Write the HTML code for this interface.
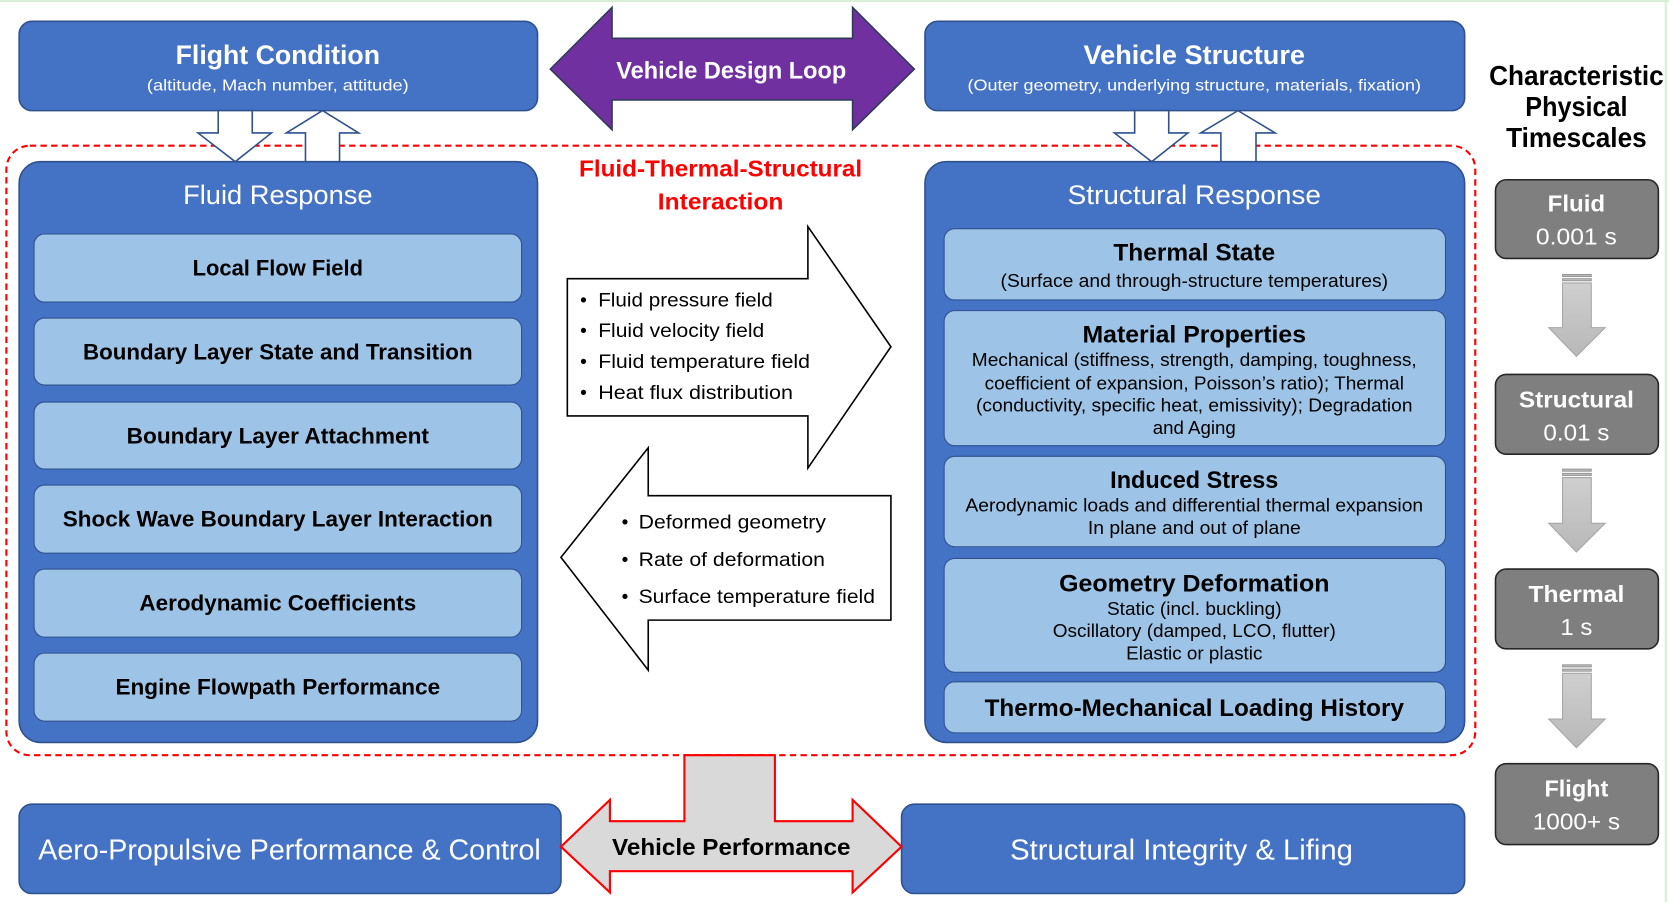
<!DOCTYPE html>
<html><head><meta charset="utf-8"><style>
html,body{margin:0;padding:0;background:#fff;width:1669px;height:902px;overflow:hidden}
svg{display:block}
text{font-family:"Liberation Sans",sans-serif}
</style></head><body>
<svg width="1669" height="902" viewBox="0 0 1568 848" preserveAspectRatio="none" xmlns="http://www.w3.org/2000/svg">
<defs>
<linearGradient id="ga" x1="0" x2="0" y1="0" y2="1"><stop offset="0" stop-color="#cfcfcf"/><stop offset="1" stop-color="#b8b8b8"/></linearGradient>
</defs>
<rect x="0" y="0" width="1568" height="848" fill="#fff"/>
<line x1="1565" y1="0" x2="1565" y2="848" stroke="#d8f0d8" stroke-width="2"/>
<line x1="0" y1="1" x2="1568" y2="1" stroke="#d8f0d8" stroke-width="2"/>

<!-- red dashed region -->
<rect x="6" y="137" width="1380" height="573" rx="22" fill="none" stroke="#ff0000" stroke-width="2" stroke-dasharray="6,4"/>

<!-- top boxes -->
<rect x="18" y="20" width="487" height="84" rx="12" fill="#4472C4" stroke="#2F528F" stroke-width="1.5"/>
<text x="261" y="60" text-anchor="middle" fill="#fff" font-size="25" font-weight="bold" textLength="192" lengthAdjust="spacingAndGlyphs">Flight Condition</text>
<text x="261" y="85" text-anchor="middle" fill="#fff" font-size="15" textLength="246" lengthAdjust="spacingAndGlyphs">(altitude, Mach number, attitude)</text>

<rect x="869" y="20" width="507" height="84" rx="12" fill="#4472C4" stroke="#2F528F" stroke-width="1.5"/>
<text x="1122" y="60" text-anchor="middle" fill="#fff" font-size="25" font-weight="bold" textLength="208" lengthAdjust="spacingAndGlyphs">Vehicle Structure</text>
<text x="1122" y="85" text-anchor="middle" fill="#fff" font-size="15" textLength="426" lengthAdjust="spacingAndGlyphs">(Outer geometry, underlying structure, materials, fixation)</text>

<!-- purple arrow -->
<polygon points="517,65 575,7 575,36 801,36 801,7 859,65 801,122 801,94 575,94 575,122" fill="#7030A0" stroke="#2F3B55" stroke-width="1.5"/>
<text x="687" y="74" text-anchor="middle" fill="#fff" font-size="23" font-weight="bold" textLength="216" lengthAdjust="spacingAndGlyphs">Vehicle Design Loop</text>

<!-- characteristic title -->
<g font-size="26" font-weight="bold" fill="#000" text-anchor="middle">
<text x="1481" y="80" textLength="164" lengthAdjust="spacingAndGlyphs">Characteristic</text>
<text x="1481" y="109" textLength="96" lengthAdjust="spacingAndGlyphs">Physical</text>
<text x="1481" y="138" textLength="132" lengthAdjust="spacingAndGlyphs">Timescales</text>
</g>

<!-- panels -->
<rect x="18" y="152" width="487" height="546" rx="20" fill="#4472C4" stroke="#2F528F" stroke-width="1.5"/>
<text x="261" y="192" text-anchor="middle" fill="#fff" font-size="25" textLength="178" lengthAdjust="spacingAndGlyphs">Fluid Response</text>
<rect x="869" y="152" width="507" height="546" rx="20" fill="#4472C4" stroke="#2F528F" stroke-width="1.5"/>
<text x="1122" y="192" text-anchor="middle" fill="#fff" font-size="25" textLength="238" lengthAdjust="spacingAndGlyphs">Structural Response</text>

<!-- hollow arrows -->
<g fill="#fff" stroke="#2F528F" stroke-width="1.5">
<polygon points="205,104 237,104 237,125 255,125 221,152 186,125 205,125"/>
<polygon points="287,152 319,152 319,125 337,125 303,104 269,125 287,125"/>
<polygon points="1066,104 1098,104 1098,125 1116,125 1082,152 1047,125 1066,125"/>
<polygon points="1147,152 1180,152 1180,125 1198,125 1163,104 1128,125 1147,125"/>
</g>

<!-- fluid items -->
<g fill="#9DC3E6" stroke="#2F528F" stroke-width="1">
<rect x="32" y="220" width="458" height="64" rx="10"/>
<rect x="32" y="299" width="458" height="63" rx="10"/>
<rect x="32" y="378" width="458" height="63" rx="10"/>
<rect x="32" y="456" width="458" height="64" rx="10"/>
<rect x="32" y="535" width="458" height="64" rx="10"/>
<rect x="32" y="614" width="458" height="64" rx="10"/>
</g>
<g font-size="21" font-weight="bold" fill="#000" text-anchor="middle">
<text x="261" y="259" textLength="160" lengthAdjust="spacingAndGlyphs">Local Flow Field</text>
<text x="261" y="338" textLength="366" lengthAdjust="spacingAndGlyphs">Boundary Layer State and Transition</text>
<text x="261" y="417" textLength="284" lengthAdjust="spacingAndGlyphs">Boundary Layer Attachment</text>
<text x="261" y="495" textLength="404" lengthAdjust="spacingAndGlyphs">Shock Wave Boundary Layer Interaction</text>
<text x="261" y="574" textLength="260" lengthAdjust="spacingAndGlyphs">Aerodynamic Coefficients</text>
<text x="261" y="653" textLength="305" lengthAdjust="spacingAndGlyphs">Engine Flowpath Performance</text>
</g>

<!-- structural items -->
<g fill="#9DC3E6" stroke="#2F528F" stroke-width="1">
<rect x="887" y="215" width="471" height="67" rx="10"/>
<rect x="887" y="292" width="471" height="127" rx="10"/>
<rect x="887" y="429" width="471" height="85" rx="10"/>
<rect x="887" y="525" width="471" height="107" rx="10"/>
<rect x="887" y="641" width="471" height="48" rx="10"/>
</g>
<g fill="#000" text-anchor="middle">
<text x="1122" y="245" font-size="23" font-weight="bold" textLength="152" lengthAdjust="spacingAndGlyphs">Thermal State</text>
<text x="1122" y="270" font-size="17" textLength="364" lengthAdjust="spacingAndGlyphs">(Surface and through-structure temperatures)</text>
<text x="1122" y="322" font-size="23" font-weight="bold" textLength="210" lengthAdjust="spacingAndGlyphs">Material Properties</text>
<text x="1122" y="344" font-size="17" textLength="418" lengthAdjust="spacingAndGlyphs">Mechanical (stiffness, strength, damping, toughness,</text>
<text x="1122" y="366" font-size="17" textLength="394" lengthAdjust="spacingAndGlyphs">coefficient of expansion, Poisson’s ratio); Thermal</text>
<text x="1122" y="387" font-size="17" textLength="410" lengthAdjust="spacingAndGlyphs">(conductivity, specific heat, emissivity); Degradation</text>
<text x="1122" y="408" font-size="17" textLength="78" lengthAdjust="spacingAndGlyphs">and Aging</text>
<text x="1122" y="459" font-size="23" font-weight="bold" textLength="158" lengthAdjust="spacingAndGlyphs">Induced Stress</text>
<text x="1122" y="481" font-size="17" textLength="430" lengthAdjust="spacingAndGlyphs">Aerodynamic loads and differential thermal expansion</text>
<text x="1122" y="502" font-size="17" textLength="200" lengthAdjust="spacingAndGlyphs">In plane and out of plane</text>
<text x="1122" y="556" font-size="23" font-weight="bold" textLength="254" lengthAdjust="spacingAndGlyphs">Geometry Deformation</text>
<text x="1122" y="578" font-size="17" textLength="164" lengthAdjust="spacingAndGlyphs">Static (incl. buckling)</text>
<text x="1122" y="599" font-size="17" textLength="266" lengthAdjust="spacingAndGlyphs">Oscillatory (damped, LCO, flutter)</text>
<text x="1122" y="620" font-size="17" textLength="128" lengthAdjust="spacingAndGlyphs">Elastic or plastic</text>
<text x="1122" y="673" font-size="23" font-weight="bold" textLength="394" lengthAdjust="spacingAndGlyphs">Thermo-Mechanical Loading History</text>
</g>

<!-- FTSI label -->
<g fill="#ff0000" font-size="22" font-weight="bold" text-anchor="middle">
<text x="677" y="166" textLength="266" lengthAdjust="spacingAndGlyphs">Fluid-Thermal-Structural</text>
<text x="677" y="197" textLength="118" lengthAdjust="spacingAndGlyphs">Interaction</text>
</g>

<!-- center arrows -->
<polygon points="533,262 759,262 759,213 837,326 759,440 759,391 533,391" fill="#fff" stroke="#000" stroke-width="1.5"/>
<g font-size="18" fill="#000">
<text x="545" y="288">•</text><text x="562" y="288" textLength="164" lengthAdjust="spacingAndGlyphs">Fluid pressure field</text>
<text x="545" y="317">•</text><text x="562" y="317" textLength="156" lengthAdjust="spacingAndGlyphs">Fluid velocity field</text>
<text x="545" y="346">•</text><text x="562" y="346" textLength="199" lengthAdjust="spacingAndGlyphs">Fluid temperature field</text>
<text x="545" y="375">•</text><text x="562" y="375" textLength="183" lengthAdjust="spacingAndGlyphs">Heat flux distribution</text>
</g>
<polygon points="837,466 609,466 609,421 527,524 609,630 609,583 837,583" fill="#fff" stroke="#000" stroke-width="1.5"/>
<g font-size="18" fill="#000">
<text x="584" y="497">•</text><text x="600" y="497" textLength="176" lengthAdjust="spacingAndGlyphs">Deformed geometry</text>
<text x="584" y="532">•</text><text x="600" y="532" textLength="175" lengthAdjust="spacingAndGlyphs">Rate of deformation</text>
<text x="584" y="567">•</text><text x="600" y="567" textLength="222" lengthAdjust="spacingAndGlyphs">Surface temperature field</text>
</g>

<!-- bottom -->
<rect x="18" y="756" width="509" height="84" rx="12" fill="#4472C4" stroke="#2F528F" stroke-width="1.5"/>
<text x="272" y="808" text-anchor="middle" fill="#fff" font-size="27" textLength="472" lengthAdjust="spacingAndGlyphs">Aero-Propulsive Performance &amp; Control</text>
<rect x="847" y="756" width="529" height="84" rx="12" fill="#4472C4" stroke="#2F528F" stroke-width="1.5"/>
<text x="1110" y="808" text-anchor="middle" fill="#fff" font-size="27" textLength="322" lengthAdjust="spacingAndGlyphs">Structural Integrity &amp; Lifing</text>
<polygon points="527,796 573,752 573,772 643,772 643,710 728,710 728,772 801,772 801,752 847,796 801,839 801,819 573,819 573,839" fill="#D9D9D9" stroke="#ff0000" stroke-width="2"/>
<text x="687" y="804" text-anchor="middle" fill="#000" font-size="22" font-weight="bold" textLength="224" lengthAdjust="spacingAndGlyphs">Vehicle Performance</text>

<!-- timescales -->
<g fill="#7F7F7F" stroke="#262626" stroke-width="1.5">
<rect x="1405" y="169" width="153" height="74" rx="10"/>
<rect x="1405" y="352" width="153" height="75" rx="10"/>
<rect x="1405" y="535" width="153" height="75" rx="10"/>
<rect x="1405" y="718" width="153" height="76" rx="10"/>
</g>
<g fill="#fff" font-size="22" text-anchor="middle">
<text x="1481" y="199" font-weight="bold" textLength="54" lengthAdjust="spacingAndGlyphs">Fluid</text>
<text x="1481" y="230" textLength="76" lengthAdjust="spacingAndGlyphs">0.001 s</text>
<text x="1481" y="383" font-weight="bold" textLength="108" lengthAdjust="spacingAndGlyphs">Structural</text>
<text x="1481" y="414" textLength="62" lengthAdjust="spacingAndGlyphs">0.01 s</text>
<text x="1481" y="566" font-weight="bold" textLength="90" lengthAdjust="spacingAndGlyphs">Thermal</text>
<text x="1481" y="597" textLength="30" lengthAdjust="spacingAndGlyphs">1 s</text>
<text x="1481" y="749" font-weight="bold" textLength="60" lengthAdjust="spacingAndGlyphs">Flight</text>
<text x="1481" y="780" textLength="82" lengthAdjust="spacingAndGlyphs">1000+ s</text>
</g>
<g fill="url(#ga)" stroke="#A6A6A6" stroke-width="1">
<polygon points="1468,266 1495,266 1495,308 1508,308 1481,335 1455,308 1468,308"/>
<polygon points="1468,449 1495,449 1495,492 1508,492 1481,519 1455,492 1468,492"/>
<polygon points="1468,633 1495,633 1495,676 1508,676 1481,703 1455,676 1468,676"/>
</g>
<g fill="#bdbdbd" stroke="#8c8c8c" stroke-width="0.8">
<rect x="1468" y="258" width="27" height="2"/><rect x="1468" y="262" width="27" height="2"/>
<rect x="1468" y="441" width="27" height="2"/><rect x="1468" y="445" width="27" height="2"/>
<rect x="1468" y="625" width="27" height="2"/><rect x="1468" y="629" width="27" height="2"/>
</g>
</svg>
</body></html>
